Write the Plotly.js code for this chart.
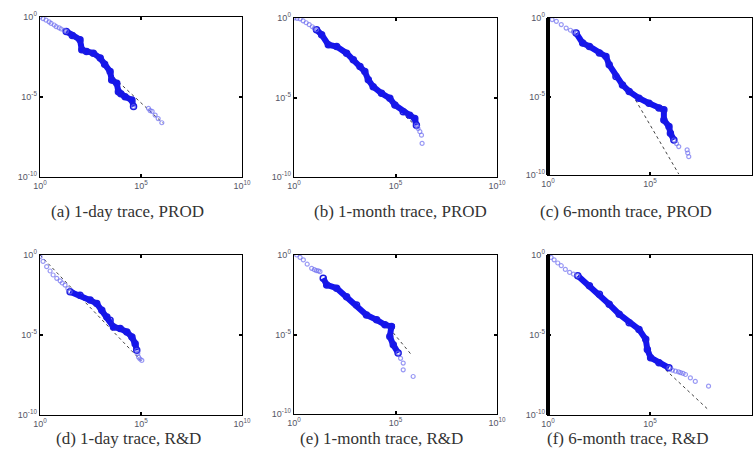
<!DOCTYPE html>
<html><head><meta charset="utf-8">
<script src="https://cdn.plot.ly/plotly-3.0.1.min.js"></script>
<style>html,body{margin:0;padding:0;background:#fff}#chart{width:754px;height:459px}</style>
</head><body><div id="chart"></div>
<script>
// All values are log10 exponents
const captions = ["(a) 1-day trace, PROD","(b) 1-month trace, PROD","(c) 6-month trace, PROD",
                  "(d) 1-day trace, R&D","(e) 1-month trace, R&D","(f) 6-month trace, R&D"];
const xTickVals = [1, 1e5, 1e10];
const xTickText = ["10<sup>0</sup>","10<sup>5</sup>","10<sup>10</sup>"];
const yTickVals = [1, 1e-5, 1e-10];
const yTickText = ["10<sup>0</sup>","10<sup>-5</sup>","10<sup>-10</sup>"];

// (a)
const aLightX = [0, 0.15, 0.3, 0.45, 0.55, 0.7, 0.8, 0.95, 1.05, 1.2, 1.3, 4.63, 5.37, 5.45, 5.55, 5.7, 5.85, 6.03];
const aLightY = [0, -0.1, -0.2, -0.3, -0.4, -0.5, -0.6, -0.68, -0.75, -0.83, -0.9, -5.6, -5.71, -5.85, -5.9, -6.13, -6.35, -6.61];
const aDarkX = [1.3, 1.6, 1.98, 2.07, 2.3, 2.64, 2.98, 3.2, 3.47, 3.55, 3.8, 3.88, 4.0, 4.21, 4.55, 4.63];
const aDarkY = [-0.9, -1.15, -1.42, -2.05, -2.15, -2.26, -2.57, -2.95, -3.41, -3.93, -4.14, -4.67, -4.8, -4.98, -5.19, -5.6];
const aFitX = [3.45, 6.1], aFitY = [-3.55, -6.65];
// (b)
const bLightX = [0, 0.15, 0.3, 0.45, 0.6, 0.75, 0.9, 1.0, 1.11, 6.03, 6.08, 6.11, 6.2, 6.28, 6.31];
const bLightY = [0, -0.02, -0.05, -0.18, -0.3, -0.42, -0.55, -0.65, -0.74, -6.74, -6.85, -6.95, -7.15, -7.37, -7.89];
const bDarkX = [1.11, 1.36, 1.69, 2.1, 2.59, 2.92, 3.25, 3.49, 3.66, 3.9, 4.31, 4.72, 4.97, 5.38, 5.7, 5.95, 6.03];
const bDarkY = [-0.74, -1.05, -1.68, -1.79, -2.21, -2.63, -3.05, -3.37, -3.89, -4.32, -4.74, -5.05, -5.47, -5.89, -6.11, -6.32, -6.74];
const bFitX = [5.5, 5.95], bFitY = [-6.2, -6.72];
// (c)
const cLightX = [0, 0.2, 0.41, 0.65, 0.89, 1.1, 1.25, 1.38, 6.17, 6.3, 6.41, 6.82, 6.85, 6.9];
const cLightY = [0, -0.1, -0.21, -0.42, -0.64, -0.78, -0.88, -0.96, -7.77, -8.0, -8.19, -8.4, -8.6, -8.83];
const cDarkX = [1.38, 1.7, 2.03, 2.52, 2.84, 3.0, 3.33, 3.65, 3.98, 4.46, 4.95, 5.44, 5.68, 5.68, 5.93, 6.0, 6.17];
const cDarkY = [-0.96, -1.6, -1.81, -2.23, -2.45, -2.98, -3.72, -4.26, -4.68, -5.11, -5.43, -5.74, -5.85, -6.49, -6.91, -7.34, -7.77];
const cFitX = [4.14, 6.41], cFitY = [-4.89, -9.94];
// (d)
const dLightX = [0, 0.15, 0.33, 0.5, 0.65, 0.83, 1.0, 1.1, 1.24, 1.38, 1.49, 4.79, 4.84, 4.88, 4.95, 5.04];
const dLightY = [-0.1, -0.4, -0.73, -1.0, -1.25, -1.46, -1.62, -1.75, -1.88, -2.1, -2.3, -5.96, -6.15, -6.38, -6.5, -6.59];
const dDarkX = [1.49, 1.98, 2.48, 2.81, 3.06, 3.31, 3.47, 3.64, 3.97, 4.3, 4.55, 4.71, 4.79];
const dDarkY = [-2.3, -2.51, -2.82, -3.03, -3.45, -3.87, -4.08, -4.5, -4.6, -4.81, -5.13, -5.54, -5.96];
const dFitX = [0, 5.0], dFitY = [0, -6.6];
// (e)
const eLightX = [0.13, 0.3, 0.46, 0.65, 0.87, 1.0, 1.1, 1.2, 1.28, 5.13, 5.25, 5.38, 5.38, 5.87];
const eLightY = [0, -0.15, -0.31, -0.58, -0.84, -0.92, -0.98, -1.0, -1.05, -6.17, -6.5, -6.8, -7.22, -7.64];
const eDarkX = [1.44, 1.61, 2.1, 2.59, 3.08, 3.57, 4.07, 4.48, 4.8, 4.72, 4.89, 5.13];
const eDarkY = [-1.46, -1.88, -2.09, -2.62, -3.14, -3.77, -4.08, -4.39, -4.5, -5.13, -5.65, -6.17];
const eFitX = [4.7, 5.8], eFitY = [-4.6, -6.3];
// (f)
const fLightX = [0, 0.15, 0.3, 0.48, 0.65, 0.85, 1.06, 1.25, 1.46, 5.93, 6.1, 6.25, 6.4, 6.5, 6.62, 6.74, 6.98, 7.22, 7.87];
const fLightY = [-0.06, -0.15, -0.3, -0.5, -0.67, -0.9, -1.09, -1.2, -1.3, -7.05, -7.2, -7.26, -7.3, -7.35, -7.4, -7.47, -7.68, -7.9, -8.2];
const fDarkX = [1.46, 2.03, 2.52, 3.0, 3.49, 3.98, 4.46, 4.79, 4.87, 5.03, 5.44, 5.93];
const fDarkY = [-1.3, -1.92, -2.45, -3.08, -3.7, -4.23, -4.65, -5.27, -5.9, -6.42, -6.74, -7.05];
const fFitX = [4.9, 7.8], fFitY = [-6.15, -9.6];

const panels = [
  [aLightX,aLightY,aDarkX,aDarkY,aFitX,aFitY],
  [bLightX,bLightY,bDarkX,bDarkY,bFitX,bFitY],
  [cLightX,cLightY,cDarkX,cDarkY,cFitX,cFitY],
  [dLightX,dLightY,dDarkX,dDarkY,dFitX,dFitY],
  [eLightX,eLightY,eDarkX,eDarkY,eFitX,eFitY],
  [fLightX,fLightY,fDarkX,fDarkY,fFitX,fFitY]
];

const W = 754, H = 459;
// pixel boxes [x0,x1,y0,y1]
const boxes = [[40,242,17,177],[294,497,18,177],[548,752,18,175],
               [40,242,255,415],[294,497,255,414],[548,752,255,415]];
const capPos = [[127,211],[400,211],[626,211],[128,438],[382,438],[627,438]];
const pw = v => Math.pow(10, v);

const traces = [], layout = {
  width: W, height: H, margin:{l:0,r:0,t:0,b:0}, showlegend:false,
  paper_bgcolor:'#fff', plot_bgcolor:'#fff', annotations:[], shapes:[]
};
panels.forEach((p,i) => {
  const n = i+1, xa = 'x'+(n===1?'':n), ya = 'y'+(n===1?'':n);
  traces.push({x:p[4].map(pw), y:p[5].map(pw), xaxis:xa, yaxis:ya, mode:'lines',
    line:{color:'#444', width:1, dash:'dot'}, hoverinfo:'skip'});
  traces.push({x:p[2].map(pw), y:p[3].map(pw), xaxis:xa, yaxis:ya, mode:'lines+markers',
    line:{color:'#1414f0', width:6}, marker:{symbol:'circle-open', size:6, color:'#1a1ae0', line:{width:1.5}}});
  traces.push({x:p[0].map(pw), y:p[1].map(pw), xaxis:xa, yaxis:ya, mode:'markers',
    marker:{symbol:'circle-open', size:4, color:'rgba(110,110,240,0.7)', line:{width:1.2}}});
  const b = boxes[i];
  const common = {type:'log', showgrid:false, zeroline:false, showline:true, linecolor:'#000', linewidth:1.3,
    mirror:'ticks', ticks:'inside', ticklen:3, tickwidth:2, tickcolor:'#000',
    tickfont:{family:'Liberation Sans, Arial', size:9, color:'#556'}};
  layout['xaxis'+(n===1?'':n)] = Object.assign({}, common, {range:[0,10], domain:[b[0]/W, b[1]/W],
    anchor:ya, tickvals:xTickVals, ticktext:xTickText});
  layout['yaxis'+(n===1?'':n)] = Object.assign({}, common, {range:[-10,0], domain:[1-b[3]/H, 1-b[2]/H],
    anchor:xa, tickvals:yTickVals, ticktext:yTickText});
  layout.annotations.push({text:captions[i], xref:'paper', yref:'paper', x:capPos[i][0]/W, y:1-capPos[i][1]/H,
    showarrow:false, xanchor:'center', yanchor:'middle',
    font:{family:'Liberation Serif, Times New Roman, serif', size:17, color:'#333'}});
  if (i===2 || i===5) {
    layout.shapes.push({type:'line', xref:xa+' domain', yref:ya+' domain', x0:0, x1:0, y0:0, y1:1,
      line:{color:'#000', width:4}});
  }
});
Plotly.newPlot('chart', traces, layout, {staticPlot:true, displayModeBar:false});
</script></body></html>
